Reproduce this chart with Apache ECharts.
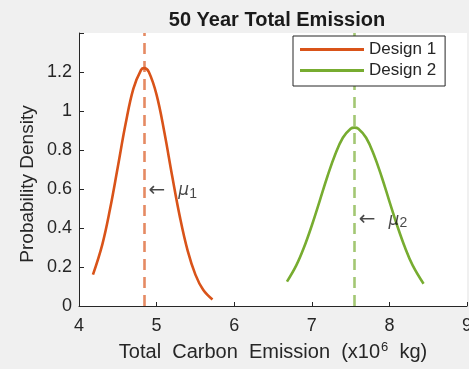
<!DOCTYPE html>
<html>
<head>
<meta charset="utf-8">
<script src="https://cdn.jsdelivr.net/npm/echarts@6/dist/echarts.min.js"></script>
<style>
  html, body { margin: 0; padding: 0; background: #f0f0f0; }
  #chart { width: 469px; height: 369px; }
</style>
</head>
<body>
<div id="chart"></div>
<script>
// Probability density of total carbon emission over 50 years (x10^6 kg)
const design1X = [4.18, 4.3, 4.4, 4.5, 4.6, 4.7, 4.8, 4.84, 4.9, 5.0, 5.1, 5.2, 5.3, 5.4, 5.5, 5.6, 5.72];
const design1Y = [0.161, 0.315, 0.497, 0.713, 0.933, 1.114, 1.211, 1.22, 1.200, 1.083, 0.891, 0.668, 0.457, 0.284, 0.161, 0.083, 0.033];
const design2X = [6.68, 6.8, 6.9, 7.0, 7.1, 7.2, 7.3, 7.4, 7.5, 7.55, 7.6, 7.7, 7.8, 7.9, 8.0, 8.1, 8.2, 8.3, 8.44];
const design2Y = [0.125, 0.208, 0.301, 0.413, 0.537, 0.663, 0.776, 0.863, 0.909, 0.915, 0.909, 0.863, 0.776, 0.663, 0.537, 0.413, 0.301, 0.208, 0.114];

// Mean of each design and where its "← μ" note sits
const seriesNames = ['Design 1', 'Design 2'];
const means = [4.84, 7.55];
const noteX = [4.89, 7.60];
const noteY = [0.60, 0.45];
const noteSubs = ['1', '2'];

const colors = ['#D95319', '#77AC30'];
const FONT = '"Liberation Sans", Arial, Helvetica, sans-serif';
const INK = '#262626';

const zip = (xs, ys) => xs.map((x, i) => [x, ys[i]]);
const curves = [zip(design1X, design1Y), zip(design2X, design2Y)];

const chart = echarts.init(document.getElementById('chart'), null, { renderer: 'canvas' });

const series = [];
curves.forEach((data, i) => {
  series.push({
    name: seriesNames[i],
    type: 'line',
    data: data,
    smooth: 0.4,
    showSymbol: false,
    symbol: 'none',
    lineStyle: { color: colors[i], width: 2.6 },
    itemStyle: { color: colors[i] },
    z: 3,
    markLine: {
      silent: true,
      symbol: ['none', 'none'],
      label: { show: false },
      lineStyle: { color: colors[i], width: 2.6, type: [11, 7], opacity: 0.68 },
      data: [{ xAxis: means[i] }],
      z: 2
    }
  });
  series.push({
    name: 'note' + (i + 1),
    type: 'scatter',
    data: [[noteX[i], noteY[i]]],
    symbolSize: 1,
    itemStyle: { color: 'rgba(0,0,0,0)' },
    silent: true,
    z: 4,
    label: {
      show: true,
      position: 'right',
      distance: 0,
      offset: [0, 2],
      color: '#1a1a1a',
      formatter: '{arr|←}{gap| }{mu|μ}{sub|' + noteSubs[i] + '}',
      rich: {
        arr: { fontFamily: '"DejaVu Sans"', fontSize: 20, color: '#1a1a1a', lineHeight: 20 },
        gap: { fontFamily: FONT, fontSize: 18, width: 13, lineHeight: 20 },
        mu: { fontFamily: '"DejaVu Sans"', fontSize: 17, fontStyle: 'italic', color: '#1a1a1a', lineHeight: 20 },
        sub: { fontFamily: FONT, fontSize: 14, color: '#1a1a1a', lineHeight: 14, verticalAlign: 'bottom' }
      }
    }
  });
});

chart.setOption({
  backgroundColor: '#f0f0f0',
  animation: false,
  title: {
    text: '50 Year Total Emission',
    left: 272,
    textAlign: 'center',
    top: 5,
    textStyle: { fontFamily: FONT, fontSize: 20, fontWeight: 'bold', color: '#1a1a1a' }
  },
  grid: {
    left: 79, right: 2, top: 33, bottom: 63,
    outerBoundsMode: 'none',
    containLabel: false,
    show: true, backgroundColor: '#ffffff', borderWidth: 0
  },
  legend: {
    data: seriesNames,
    orient: 'vertical',
    left: 293,
    top: 36,
    icon: 'rect',
    itemWidth: 64,
    itemHeight: 3,
    itemGap: 4,
    padding: [5, 9, 7, 7],
    backgroundColor: '#ffffff',
    borderColor: INK,
    borderWidth: 1,
    borderRadius: 0,
    textStyle: { fontFamily: FONT, fontSize: 17, color: INK }
  },
  xAxis: {
    type: 'value',
    min: 4, max: 9, interval: 1,
    name: '{t|Total  Carbon  Emission  (x10}{sup|6}{t|  kg)}',
    nameLocation: 'middle',
    nameGap: 35,
    nameTextStyle: {
      rich: {
        t: { fontFamily: FONT, fontSize: 20, color: INK, lineHeight: 22 },
        sup: { fontFamily: FONT, fontSize: 13, color: INK, lineHeight: 22, verticalAlign: 'top', padding: [0, 0, 8, 1] }
      }
    },
    axisLine: { show: true, onZero: false, lineStyle: { color: INK, width: 1 } },
    axisTick: { show: true, inside: true, length: 4, lineStyle: { color: INK } },
    axisLabel: { fontFamily: FONT, fontSize: 18, color: INK, margin: 11, hideOverlap: false },
    splitLine: { show: false }
  },
  yAxis: {
    type: 'value',
    min: 0, max: 1.4, interval: 0.2,
    axisLine: { show: true, lineStyle: { color: INK, width: 1 } },
    axisTick: { show: true, inside: true, length: 5, lineStyle: { color: INK } },
    axisLabel: {
      fontFamily: FONT, fontSize: 18, color: INK, margin: 7,
      formatter: v => (v > 1.3 ? '' : String(Math.round(v * 10) / 10))
    },
    splitLine: { show: false }
  },
  graphic: [{
    type: 'text',
    x: 28,
    y: 184,
    rotation: Math.PI / 2,
    style: {
      text: 'Probability Density',
      font: '19px ' + FONT,
      fill: INK,
      align: 'center',
      verticalAlign: 'middle'
    }
  }],
  series: series
});
</script>
</body>
</html>
